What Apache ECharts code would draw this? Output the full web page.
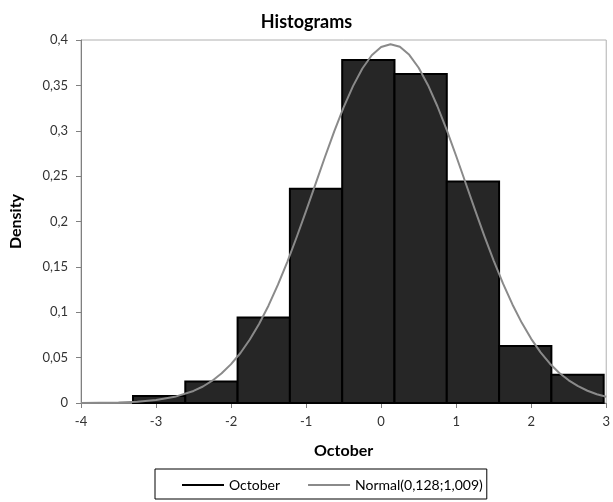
<!DOCTYPE html>
<html>
<head>
<meta charset="utf-8">
<script src="https://cdn.jsdelivr.net/npm/echarts@6/dist/echarts.min.js"></script>
<style>html,body{margin:0;padding:0;background:#fff}#c{width:613px;height:502px}</style>
</head>
<body>
<div id="c"></div>
<script>
// Histogram bins (edges) and densities
var binEdges = [-3.307, -2.610, -1.913, -1.216, -0.519, 0.178, 0.875, 1.572, 2.269, 2.966];
var densities = [0.0077, 0.0238, 0.0943, 0.2361, 0.378, 0.3625, 0.2442, 0.0628, 0.0312];
// Normal(0,128;1,009) curve points
var curveX = [-4, -3.75, -3.5, -3.25, -3, -2.75, -2.5, -2.375, -2.25, -2.125, -2, -1.875, -1.75, -1.625, -1.5, -1.375, -1.25, -1.125, -1, -0.875, -0.75, -0.625, -0.5, -0.375, -0.25, -0.125, 0, 0.125, 0.25, 0.375, 0.5, 0.625, 0.75, 0.875, 1, 1.125, 1.25, 1.375, 1.5, 1.625, 1.75, 1.875, 2, 2.125, 2.25, 2.375, 2.5, 2.625, 2.75, 2.875, 3];
var curveY = [0.0001, 0.0002, 0.0006, 0.0015, 0.0032, 0.0068, 0.0133, 0.0182, 0.0246, 0.0327, 0.0428, 0.0551, 0.0700, 0.0874, 0.1075, 0.1304, 0.1556, 0.1829, 0.2117, 0.2412, 0.2708, 0.2993, 0.3258, 0.3492, 0.3686, 0.3832, 0.3922, 0.3954, 0.3925, 0.3837, 0.3694, 0.3502, 0.3270, 0.3006, 0.2722, 0.2427, 0.2131, 0.1842, 0.1569, 0.1315, 0.1086, 0.0883, 0.0707, 0.0558, 0.0433, 0.0331, 0.0250, 0.0185, 0.0135, 0.0097, 0.0069];
var yTicks = ['0', '0,05', '0,1', '0,15', '0,2', '0,25', '0,3', '0,35', '0,4'];
var seriesNames = ['October', 'Normal(0,128;1,009)'];

var barData = densities.map(function (d, i) { return [binEdges[i], binEdges[i + 1], d]; });
var lineData = curveX.map(function (x, i) { return [x, curveY[i]]; });

var chart = echarts.init(document.getElementById('c'), null, {renderer: 'canvas'});
var fontFam = 'Lato, "Open Sans", sans-serif';
chart.setOption({
  animation: false,
  backgroundColor: '#fff',
  title: {
    text: 'Histograms', left: 'center', top: 8,
    textStyle: {fontFamily: fontFam, fontWeight: 'bold', fontSize: 18, color: '#000'}
  },
  grid: {left: 73, right: 1, top: 40, bottom: 99, show: true, borderColor: '#b0b0b0', borderWidth: 1, backgroundColor: 'transparent'},
  legend: {
    left: 155, top: 469,
    padding: [9, 4, 7, 27],
    itemGap: 28,
    borderColor: '#000', borderWidth: 1,
    itemWidth: 42, itemHeight: 2,
    textStyle: {fontFamily: fontFam, fontSize: 14, color: '#000'},
    data: [
      {name: seriesNames[0], icon: 'rect', itemStyle: {color: '#000'}},
      {name: seriesNames[1], icon: 'rect', itemStyle: {color: '#8a8a8a'}}
    ]
  },
  xAxis: {
    type: 'value', min: -4, max: 3, interval: 1,
    name: 'October', nameLocation: 'middle', nameGap: 40,
    nameTextStyle: {fontFamily: fontFam, fontWeight: 'bold', fontSize: 16, color: '#000'},
    axisLine: {show: true, onZero: false, lineStyle: {color: '#808080', width: 1}},
    axisTick: {show: true, length: 5, lineStyle: {color: '#808080'}},
    axisLabel: {fontFamily: fontFam, fontSize: 13, color: '#333', margin: 12},
    splitLine: {show: false}
  },
  yAxis: {
    type: 'value', min: 0, max: 0.4, interval: 0.05,
    name: 'Density', nameLocation: 'middle', nameGap: 57,
    nameTextStyle: {fontFamily: fontFam, fontWeight: 'bold', fontSize: 16, color: '#000'},
    axisLine: {show: true, onZero: false, lineStyle: {color: '#808080', width: 1}},
    axisTick: {show: true, length: 5, lineStyle: {color: '#808080'}},
    axisLabel: {
      fontFamily: fontFam, fontSize: 13, color: '#333', margin: 13,
      formatter: function (v) { return yTicks[Math.round(v / 0.05)]; }
    },
    splitLine: {show: false}
  },
  series: [
    {
      name: seriesNames[0], type: 'custom',
      itemStyle: {color: '#262626'},
      renderItem: function (params, api) {
        var p0 = api.coord([api.value(0), api.value(2)]);
        var p1 = api.coord([api.value(1), 0]);
        return {
          type: 'rect',
          shape: {x: p0[0], y: p0[1], width: p1[0] - p0[0], height: p1[1] - p0[1]},
          style: {fill: '#262626', stroke: '#000', lineWidth: 2}
        };
      },
      encode: {x: [0, 1], y: 2},
      data: barData
    },
    {
      name: seriesNames[1], type: 'line', smooth: false, showSymbol: false,
      lineStyle: {color: '#8a8a8a', width: 2, join: 'round'},
      itemStyle: {color: '#8a8a8a'},
      data: lineData, z: 5
    }
  ]
});
</script>
</body>
</html>
